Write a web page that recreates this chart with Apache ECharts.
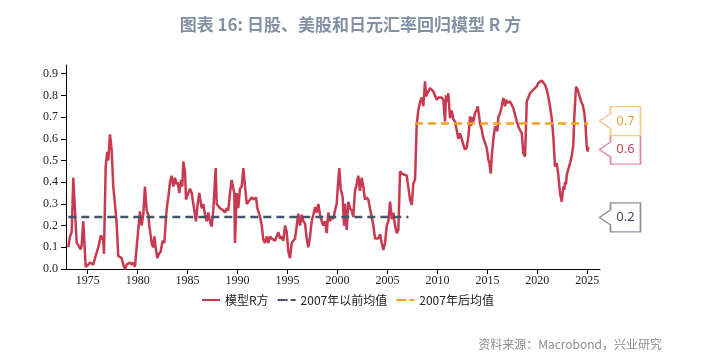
<!DOCTYPE html>
<html>
<head>
<meta charset="UTF-8">
<title>日股、美股和日元汇率回归模型 R 方</title>
<script src="https://cdn.jsdelivr.net/npm/echarts@6/dist/echarts.min.js"></script>
<style>
  html, body { margin: 0; padding: 0; background: #fff; }
  #chart1 { width: 701px; height: 353px; }
</style>
</head>
<body>
<div id="chart1"></div>
<script type="text/javascript">
// 时间（年，小数表示月份）
var dates = [
  1973.06, 1973.23, 1973.40, 1973.56, 1973.66, 1973.90, 1974.06, 1974.30, 1974.40, 1974.56,
  1974.80, 1975.06, 1975.23, 1975.56, 1975.73, 1976.06, 1976.33, 1976.50, 1976.56, 1976.63,
  1976.80, 1976.96, 1977.06, 1977.23, 1977.40, 1977.56, 1977.73, 1977.90, 1978.06, 1978.40,
  1978.56, 1978.73, 1978.90, 1979.23, 1979.40, 1979.56, 1979.73, 1979.90, 1980.23, 1980.40,
  1980.56, 1980.73, 1980.90, 1981.06, 1981.17, 1981.40, 1981.56, 1981.67, 1981.80, 1981.97,
  1982.14, 1982.30, 1982.50, 1982.67, 1982.84, 1982.97, 1983.07, 1983.24, 1983.40, 1983.57,
  1983.74, 1983.91, 1984.01, 1984.17, 1984.34, 1984.47, 1984.57, 1984.74, 1984.84, 1985.07,
  1985.24, 1985.41, 1985.57, 1985.74, 1985.84, 1986.01, 1986.17, 1986.41, 1986.57, 1986.74,
  1986.91, 1987.07, 1987.24, 1987.41, 1987.57, 1987.81, 1987.91, 1988.24, 1988.57, 1988.74,
  1988.91, 1989.07, 1989.24, 1989.41, 1989.57, 1989.67, 1989.74, 1989.91, 1990.07, 1990.24,
  1990.41, 1990.58, 1990.75, 1990.92, 1991.08, 1991.25, 1991.42, 1991.58, 1991.85, 1991.98,
  1992.25, 1992.42, 1992.58, 1992.75, 1992.92, 1993.08, 1993.25, 1993.42, 1993.58, 1993.75,
  1993.92, 1994.08, 1994.25, 1994.42, 1994.58, 1994.75, 1994.92, 1995.08, 1995.25, 1995.42,
  1995.58, 1995.75, 1995.92, 1996.08, 1996.25, 1996.42, 1996.58, 1996.75, 1996.92, 1997.08,
  1997.25, 1997.42, 1997.58, 1997.75, 1997.92, 1998.08, 1998.25, 1998.42, 1998.58, 1998.75,
  1998.92, 1999.08, 1999.25, 1999.42, 1999.58, 1999.75, 1999.92, 2000.08, 2000.18, 2000.32,
  2000.52, 2000.65, 2000.75, 2000.92, 2001.08, 2001.25, 2001.42, 2001.58, 2001.75, 2001.92,
  2002.08, 2002.25, 2002.42, 2002.58, 2002.75, 2002.92, 2003.08, 2003.25, 2003.42, 2003.59,
  2003.76, 2003.93, 2004.09, 2004.26, 2004.43, 2004.59, 2004.76, 2004.93, 2005.09, 2005.26,
  2005.43, 2005.59, 2005.76, 2005.93, 2006.09, 2006.26, 2006.43, 2006.93, 2007.09, 2007.26,
  2007.43, 2007.59, 2007.76, 2007.93, 2008.09, 2008.26, 2008.43, 2008.59, 2008.76, 2008.86,
  2008.99, 2009.26, 2009.43, 2009.59, 2009.76, 2009.93, 2010.09, 2010.26, 2010.43, 2010.59,
  2010.76, 2010.86, 2010.99, 2011.09, 2011.26, 2011.43, 2011.59, 2011.76, 2011.93, 2012.09,
  2012.26, 2012.43, 2012.60, 2012.76, 2012.93, 2013.10, 2013.27, 2013.37, 2013.50, 2013.60,
  2013.77, 2013.94, 2014.04, 2014.27, 2014.44, 2014.60, 2014.77, 2014.94, 2015.10, 2015.20,
  2015.34, 2015.44, 2015.60, 2015.77, 2015.87, 2016.00, 2016.10, 2016.27, 2016.44, 2016.60,
  2016.77, 2016.87, 2017.00, 2017.27, 2017.44, 2017.60, 2017.77, 2017.94, 2018.10, 2018.27,
  2018.44, 2018.60, 2018.77, 2018.87, 2018.94, 2019.10, 2019.27, 2019.44, 2019.60, 2019.77,
  2019.94, 2020.10, 2020.27, 2020.44, 2020.60, 2020.77, 2020.94, 2021.10, 2021.27, 2021.44,
  2021.60, 2021.77, 2021.94, 2022.10, 2022.27, 2022.44, 2022.60, 2022.70, 2022.77, 2022.87,
  2022.94, 2023.10, 2023.27, 2023.44, 2023.60, 2023.70, 2023.87, 2024.04, 2024.20, 2024.37,
  2024.54, 2024.70, 2024.84, 2024.94, 2025.04, 2025.10
];
// 模型R方
var rSquared = [
  0.10, 0.15, 0.17, 0.42, 0.33, 0.12, 0.11, 0.09, 0.11, 0.22,
  0.01, 0.02, 0.03, 0.02, 0.05, 0.10, 0.155, 0.15, 0.13, 0.07,
  0.47, 0.54, 0.50, 0.62, 0.55, 0.38, 0.30, 0.21, 0.06, 0.05,
  0.02, 0.00, 0.02, 0.03, 0.02, 0.03, 0.01, 0.10, 0.265, 0.20,
  0.25, 0.38, 0.27, 0.25, 0.20, 0.12, 0.10, 0.15, 0.10, 0.05,
  0.07, 0.08, 0.13, 0.12, 0.24, 0.30, 0.33, 0.40, 0.43, 0.38,
  0.42, 0.39, 0.40, 0.35, 0.41, 0.38, 0.495, 0.45, 0.32, 0.35,
  0.37, 0.35, 0.30, 0.25, 0.22, 0.30, 0.35, 0.28, 0.30, 0.25,
  0.22, 0.26, 0.22, 0.195, 0.27, 0.465, 0.30, 0.28, 0.27, 0.26,
  0.28, 0.27, 0.35, 0.41, 0.41, 0.35, 0.12, 0.35, 0.28, 0.37,
  0.38, 0.465, 0.38, 0.30, 0.30, 0.32, 0.33, 0.32, 0.33, 0.28,
  0.24, 0.20, 0.134, 0.12, 0.15, 0.12, 0.15, 0.14, 0.14, 0.13,
  0.13, 0.17, 0.14, 0.15, 0.13, 0.20, 0.17, 0.08, 0.05, 0.12,
  0.13, 0.14, 0.20, 0.255, 0.20, 0.25, 0.22, 0.21, 0.14, 0.10,
  0.15, 0.22, 0.25, 0.285, 0.26, 0.30, 0.25, 0.22, 0.20, 0.22,
  0.165, 0.26, 0.22, 0.24, 0.23, 0.27, 0.30, 0.41, 0.465, 0.37,
  0.33, 0.20, 0.30, 0.18, 0.31, 0.28, 0.27, 0.24, 0.36, 0.39,
  0.43, 0.36, 0.42, 0.38, 0.32, 0.33, 0.32, 0.28, 0.24, 0.20,
  0.14, 0.14, 0.14, 0.16, 0.12, 0.088, 0.12, 0.20, 0.22, 0.31,
  0.23, 0.26, 0.20, 0.165, 0.18, 0.45, 0.44, 0.43, 0.43, 0.32,
  0.295, 0.395, 0.41, 0.67, 0.73, 0.77, 0.79, 0.75, 0.865, 0.795,
  0.81, 0.834, 0.83, 0.818, 0.81, 0.78, 0.79, 0.795, 0.79, 0.78,
  0.68, 0.80, 0.77, 0.81, 0.695, 0.73, 0.69, 0.68, 0.64, 0.60,
  0.625, 0.60, 0.572, 0.55, 0.56, 0.61, 0.703, 0.66, 0.70, 0.68,
  0.72, 0.734, 0.749, 0.67, 0.64, 0.603, 0.58, 0.557, 0.503, 0.49,
  0.44, 0.52, 0.60, 0.657, 0.665, 0.635, 0.70, 0.718, 0.75, 0.788,
  0.75, 0.78, 0.765, 0.772, 0.765, 0.741, 0.71, 0.68, 0.657, 0.64,
  0.626, 0.534, 0.518, 0.526, 0.772, 0.79, 0.81, 0.818, 0.826, 0.834,
  0.842, 0.857, 0.864, 0.868, 0.864, 0.849, 0.826, 0.795, 0.749, 0.695,
  0.61, 0.472, 0.488, 0.434, 0.349, 0.31, 0.38, 0.365, 0.40, 0.39,
  0.434, 0.44, 0.488, 0.52, 0.572, 0.703, 0.84, 0.826, 0.818, 0.772,
  0.757, 0.72, 0.649, 0.564, 0.541, 0.564
];
// 均值线
var preMeanX = [1973.06, 2007.10];
var preMean = 0.24;
var postMeanX = [2007.76, 2025.10];
var postMean = 0.67;

var xTicks = [1975, 1980, 1985, 1990, 1995, 2000, 2005, 2010, 2015, 2020, 2025];
var yTicks = [0, 0.1, 0.2, 0.3, 0.4, 0.5, 0.6, 0.7, 0.8, 0.9];
var xMin = 1972.83, xMax = 2026.27;

var seriesNames = ['模型R方', '2007年以前均值', '2007年后均值'];
var colors = ['#c83a50', '#45546b', '#f2a31f'];

var chart1 = echarts.init(document.getElementById('chart1'));

var lineData = dates.map(function (d, i) { return [d, rSquared[i]]; });
var preData = preMeanX.map(function (d) { return [d, preMean]; });
var postData = postMeanX.map(function (d) { return [d, postMean]; });

// 右侧标注框（左侧带尖角），dy 为上下微调避免重叠
var calloutPath = 'path://M11,0 L41,0 L41,29 L11,29 L11,22 L0,14.5 L11,7 Z';
function callout(value, dy, border, text) {
  return {
    symbol: calloutPath,
    symbolSize: [41, 29],
    symbolOffset: [20.5, dy],
    silent: true,
    itemStyle: { color: '#fff', borderColor: border, borderWidth: 1.5 },
    label: {
      show: true,
      position: 'inside',
      offset: [5.5, 0],
      color: text,
      fontSize: 13,
      fontFamily: '"Noto Sans", "Open Sans", sans-serif',
      formatter: function () { return value.toFixed(1); }
    },
    data: [{ coord: [xMax - 0.05, value] }]
  };
}

var option = {
  animation: false,
  backgroundColor: '#fff',
  title: [{
    text: '图表 16: 日股、美股和日元汇率回归模型 R 方',
    left: 'center',
    top: 11,
    textStyle: {
      color: '#8391a5',
      fontSize: 17,
      fontWeight: 'bold',
      fontFamily: '"Noto Sans CJK SC", sans-serif'
    }
  }, {
    text: '资料来源：Macrobond，兴业研究',
    right: 34,
    top: 333,
    textStyle: {
      color: '#8c8c8c',
      fontSize: 12,
      fontWeight: 'normal',
      fontFamily: '"Noto Sans CJK SC", sans-serif'
    }
  }],
  legend: {
    data: seriesNames,
    left: 196,
    top: 289,
    itemWidth: 18,
    itemHeight: 3,
    itemGap: 8,
    textStyle: {
      color: '#222',
      fontSize: 12,
      fontFamily: '"Noto Sans CJK SC", sans-serif'
    }
  },
  grid: { left: 66, right: 101, top: 65, bottom: 84 },
  xAxis: {
    type: 'value',
    min: xMin,
    max: xMax,
    splitLine: { show: false },
    axisLine: { show: true, onZero: false, lineStyle: { color: '#000', width: 1 } },
    axisTick: { show: true, length: 5, customValues: xTicks, lineStyle: { color: '#000' } },
    axisLabel: {
      customValues: xTicks,
      margin: 6,
      color: '#222',
      fontSize: 12,
      fontFamily: '"Liberation Serif", "DejaVu Serif", serif',
      formatter: function (v) { return String(Math.round(v)); }
    }
  },
  yAxis: {
    type: 'value',
    min: 0,
    max: 0.94,
    splitLine: { show: false },
    axisLine: { show: true, lineStyle: { color: '#000', width: 1 } },
    axisTick: { show: true, length: 5, customValues: yTicks, lineStyle: { color: '#000' } },
    axisLabel: {
      customValues: yTicks,
      margin: 8,
      color: '#222',
      fontSize: 12,
      fontFamily: '"Liberation Serif", "DejaVu Serif", serif',
      formatter: function (v) { return v.toFixed(1); }
    }
  },
  series: [{
    name: seriesNames[0],
    type: 'line',
    data: lineData,
    symbol: 'none',
    color: colors[0],
    lineStyle: { color: colors[0], width: 2.5 },
    markPoint: callout(rSquared[rSquared.length - 1], 3, '#dc8d9c', '#c6455d')
  }, {
    name: seriesNames[1],
    type: 'line',
    data: preData,
    symbol: 'none',
    color: colors[1],
    lineStyle: { color: colors[1], width: 2.5, type: [8, 5] },
    markPoint: callout(preMean, 0.5, '#8b93a3', '#3d4a5c')
  }, {
    name: seriesNames[2],
    type: 'line',
    data: postData,
    symbol: 'none',
    color: colors[2],
    lineStyle: { color: colors[2], width: 2.5, type: [8, 5] },
    markPoint: callout(postMean, -2.5, '#f6c987', '#eaa23e')
  }]
};

chart1.setOption(option);
</script>
</body>
</html>
